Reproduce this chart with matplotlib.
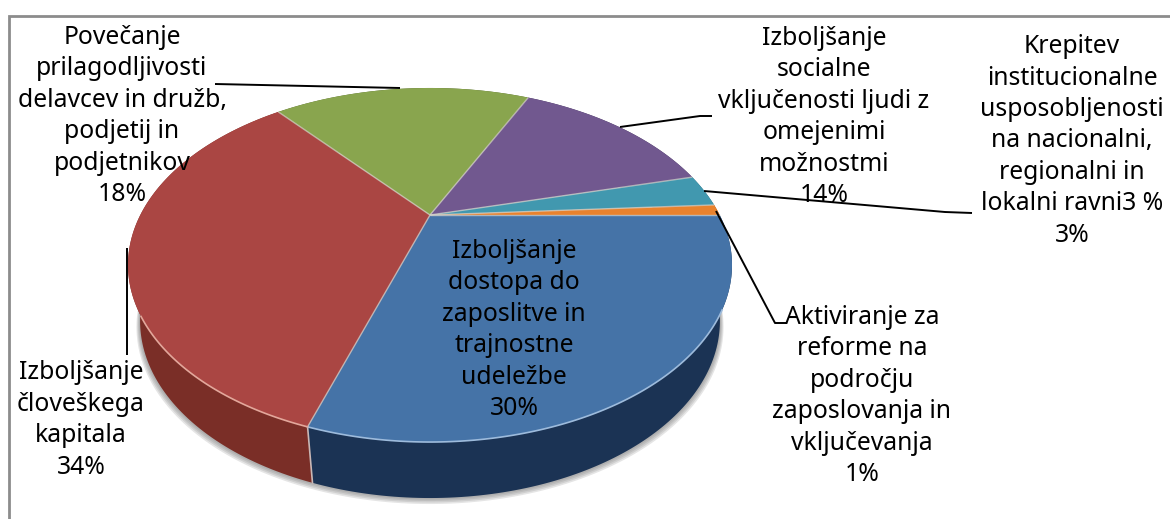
import numpy as np
import matplotlib
matplotlib.use("Agg")
import matplotlib.pyplot as plt
from matplotlib.patches import Polygon

# shares, clockwise from the right hand side
labels = [
    "Izboljšanje\ndostopa do\nzaposlitve in\ntrajnostne\nudeležbe",
    "Izboljšanje\nčloveškega\nkapitala",
    "Povečanje\nprilagodljivosti\ndelavcev in družb,\npodjetij in\npodjetnikov",
    "Izboljšanje\nsocialne\nvključenosti ljudi z\nomejenimi\nmožnostmi",
    "Krepitev\ninstitucionalne\nusposobljenosti\nna nacionalni,\nregionalni in\nlokalni ravni3 %",
    "Aktiviranje za\nreforme na\npodročju\nzaposlovanja in\nvključevanja",
]
values = [30, 34, 18, 14, 3, 1]
top_colors = ["#4573a7", "#aa4643", "#89a54e", "#71588f", "#4198af", "#e8822e"]
side_colors = ["#1b3354", "#7a2e27", "#4f6029", "#3f2f55", "#1f5a6b", "#8a4d1d"]

plt.rcParams['font.family'] = ['Noto Sans', 'DejaVu Sans']

# centre x, centre y of each label block
label_pos = [(122, 116), (824, 117), (1072, 141), (862, 396), (81, 420), (514, 330)]
label_order = [2, 3, 4, 5, 1, 0]

CX, CY = 430, 215
A, B, K = 289.7, 162.9, 0.2825
DEPTH, SHRINK = 56, 0.96


def rim(theta):
    x, y = np.cos(theta), np.sin(theta)
    d = 1 + K * y
    return CX + A * x / d, CY - B * y / d


def lower(theta, extra=0, grow=0):
    x, y = rim(theta)
    return CX + (x - CX) * (SHRINK + grow), y + DEPTH + extra


fig = plt.figure(figsize=(11.7, 5.19), dpi=100)
ax = fig.add_axes([0, 0, 1, 1])
ax.set_xlim(0, 1170)
ax.set_ylim(519, 0)
ax.axis("off")

# only the top and left of the frame are in the crop
ax.plot([8.5, 8.5, 1170], [519, 15.5, 15.5], color="#8c8c8c", lw=2, solid_joinstyle="miter")

# soft shadow under the pie
all_t = np.linspace(0, 2 * np.pi, 360)
for extra, grow in [(6, 0.012), (4.5, 0.009), (3, 0.006), (1.5, 0.003)]:
    sx, sy = lower(all_t, extra, grow)
    ax.add_patch(Polygon(np.c_[sx, sy], fc="#707070", ec="none", alpha=0.18))

edges = np.cumsum([0] + values) / sum(values) * 2 * np.pi

for i in range(len(values)):
    t = -np.linspace(edges[i], edges[i + 1], 120)
    xt, yt = rim(t)
    xb, yb = lower(t)
    ax.add_patch(Polygon(np.r_[np.c_[xt, yt], np.c_[xb, yb][::-1]],
                         fc=side_colors[i], ec="none"))

# light seam on the front edge between blue and red
seam = edges[1]
ax.plot([rim(-seam)[0], lower(-seam)[0]], [rim(-seam)[1], lower(-seam)[1]], color="#c9b7b5", lw=1.2)

for i in range(len(values)):
    t = -np.linspace(edges[i], edges[i + 1], 120)
    xt, yt = rim(t)
    ax.add_patch(Polygon(np.r_[[[CX, CY]], np.c_[xt, yt]], fc=top_colors[i], ec="none"))

# separators on the top face
for i in range(len(values)):
    ex, ey = rim(-edges[i])
    ax.plot([CX, ex], [CY, ey], color="#d8d4cc", lw=1.0, alpha=0.7, solid_capstyle="butt")

# lighter rim where the side is visible
t = -np.radians(np.linspace(30, edges[1] * 180 / np.pi, 120))
xt, yt = rim(t)
ax.plot(xt, yt, color="#9dbbdc", lw=1.2)
t = -np.radians(np.linspace(edges[1] * 180 / np.pi, 148, 80))
xt, yt = rim(t)
ax.plot(xt, yt, color="#e3a79b", lw=1.2)

# leader lines
leaders = [
    ([215, 400], [84, 88]),
    ([620, 700, 712], [127, 116, 116]),
    ([704, 945, 972], [191, 212, 213]),
    ([716, 775, 787], [211, 323, 323]),
    ([127, 127], [248, 355]),
]
for lx, ly in leaders:
    ax.plot(lx, ly, color="black", lw=1.4, solid_capstyle="butt")

for pos, i in zip(label_pos, label_order):
    ax.text(pos[0], pos[1], f"{labels[i]}\n{values[i]}%",
            ha="center", va="center", fontsize=17.8, linespacing=1.34, color="black")

fig.savefig("out.png", dpi=100)
